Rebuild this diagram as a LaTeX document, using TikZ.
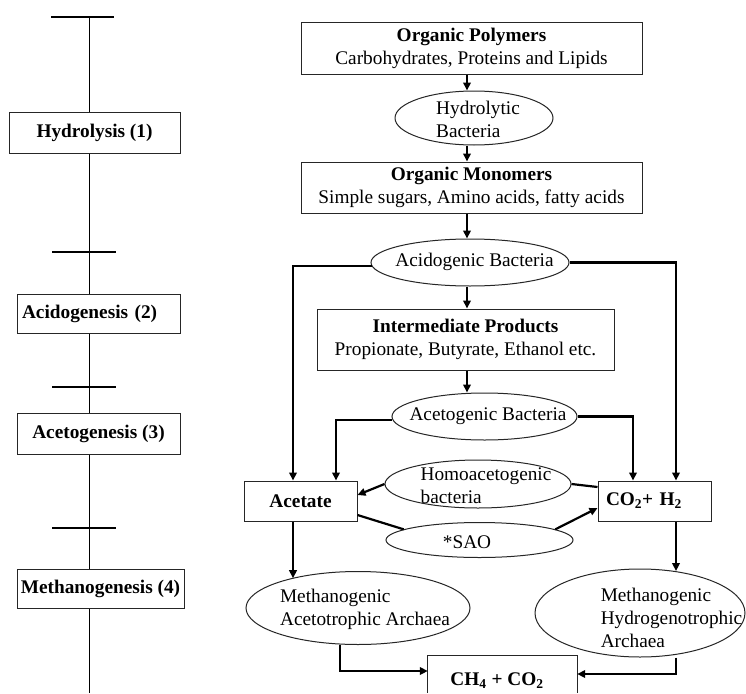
\documentclass[tikz,border=0pt]{standalone}
\usepackage{fontspec}
\setmainfont{Liberation Serif}
\usetikzlibrary{arrows.meta,shapes.geometric,calc}
\newcommand\figfont{\fontsize{19.3}{23}\selectfont}
\begin{document}
\begin{tikzpicture}[x=1pt,y=-1pt,
  box/.style={draw=black!85, line width=1pt, rectangle, fill=white, inner sep=0pt, align=center, font=\figfont},
  ell/.style={draw=black!85, line width=1pt, ellipse, inner sep=0pt},
  lbl/.style={font=\figfont, align=left, inner sep=0pt},
  arr/.style={line width=2.2pt, -{Triangle[length=8pt,width=7.5pt]}},
  ln/.style={line width=2.2pt},
  tickmark/.style={line width=2.8pt},
  axisline/.style={line width=0.9pt}]
\useasboundingbox[fill=white] (0,0) rectangle (746,693);
% ---------- left column ----------
\coordinate (axtop) at (89,17);
\coordinate (axbot) at (89,693);
\coordinate (t2) at (89,252);
\coordinate (t3) at (89,387);
\coordinate (t4) at (89,528);
\draw[axisline] (axtop) -- (axbot);
\draw[tickmark] ($(axtop)+(-38,0)$) -- ($(axtop)+(25,0)$);
\draw[tickmark] ($(t2)+(-37,0)$) -- ($(t2)+(27,0)$);
\draw[tickmark] ($(t3)+(-37,0)$) -- ($(t3)+(27,0)$);
\draw[tickmark] ($(t4)+(-37,0)$) -- ($(t4)+(27,0)$);
\node[box, minimum width=171pt, minimum height=41pt] (hyd) at (94.5,132.5) {\textbf{Hydrolysis (1)}};
\node[box, minimum width=163pt, minimum height=39pt, text width=153pt, align=left] (acid) at (98.5,313.5) {\textbf{Acidogenesis (2)}};
\node[box, minimum width=163pt, minimum height=41pt] (aceto) at (98.5,433.5) {\textbf{Acetogenesis (3)}};
\node[box, minimum width=167pt, minimum height=39pt] (meth) at (100.5,588.5) {\textbf{Methanogenesis (4)}};
% ---------- right diagram ----------
\coordinate (mx) at (467,0);
\coordinate (lx1) at (293,0);
\coordinate (lx2) at (336,0);
\coordinate (lx3) at (340,0);
\coordinate (rx1) at (676,0);
\coordinate (rx2) at (633,0);
\coordinate (yl) at (0,671);
\coordinate (yr) at (0,674);

\node[box, minimum width=341pt, minimum height=51pt] (poly) at (471.5,48.5) {\textbf{Organic Polymers}\\Carbohydrates, Proteins and Lipids};
\node[ell, minimum width=158pt, minimum height=54pt] (hydb) at (474,118) {};
\node[lbl] (hydbt) at (478,119.5) {Hydrolytic\\Bacteria};
\node[box, minimum width=341pt, minimum height=51pt] (mono) at (471.5,187.5) {\textbf{Organic Monomers}\\Simple sugars, Amino acids, fatty acids};
\node[ell, minimum width=198pt, minimum height=47pt] (acidb) at (470,262.5) {};
\node[lbl] (acidbt) at (474.5,262) {Acidogenic Bacteria};
\node[box, minimum width=297pt, minimum height=61pt] (inter) at (465.5,339.5) {\textbf{Intermediate Products}\\Propionate, Butyrate, Ethanol etc.};
\node[ell, minimum width=185pt, minimum height=47pt] (acetob) at (484.5,416.5) {};
\node[lbl] (acetobt) at (488,416) {Acetogenic Bacteria};
\node[box, minimum width=113pt, minimum height=40pt] (acet) at (300.5,501) {\textbf{Acetate}};
\node[box, minimum width=113pt, minimum height=40pt, text width=97pt, align=left] (co2) at (654.5,501) {\textbf{CO\textsubscript{2}+ H\textsubscript{2}}};
\node[ell, minimum width=186pt, minimum height=48pt] (homo) at (478,484) {};
\node[lbl] (homot) at (486,486) {Homoacetogenic\\bacteria};
\node[ell, minimum width=187pt, minimum height=35pt] (sao) at (479.5,540) {};
\node[lbl] (saot) at (467,542) {*SAO};
\node[ell, minimum width=224pt, minimum height=73pt] (maa) at (358,608) {};
\node[lbl] (maat) at (365,609) {Methanogenic\\Acetotrophic Archaea};
\node[ell, minimum width=210pt, minimum height=88pt] (mha) at (640,613) {};
\node[lbl] (mhat) at (671.5,618) {Methanogenic\\Hydrogenotrophic\\Archaea};
\node[minimum width=149pt, minimum height=37pt, inner sep=0pt] (ch4) at (502.5,674) {};
\draw[draw=black!85, line width=1pt] (ch4.south west) -- (ch4.north west) -- (ch4.north east) -- (ch4.south east);
\node[lbl] (ch4t) at (497,681) {\textbf{CH\textsubscript{4} + CO\textsubscript{2}}};

% connectors
\draw[arr] (poly.south -| mx) -- (hydb.north -| mx);
\draw[arr] (hydb.south -| mx) -- (mono.north -| mx);
\draw[arr] (mono.south -| mx) -- (acidb.north -| mx);
\draw[arr] (acidb.south -| mx) -- (inter.north -| mx);
\draw[arr] (inter.south -| mx) -- (acetob.north -| mx);
\draw[arr] (acidb.182) -- (acidb.182 -| lx1) -- (acet.north -| lx1);
\draw[arr] (acidb.east) -- (acidb.east -| rx1) -- (co2.north -| rx1);
\draw[arr] (acetob.182) -- (acetob.182 -| lx2) -- (acet.north -| lx2);
\draw[arr] (acetob.east) -- (acetob.east -| rx2) -- (co2.north -| rx2);
\draw[ln] ($(co2.west)+(0,-14)$) -- (homo.east);
\draw[arr] (homo.west) -- ($(acet.east)+(0,-6)$);
\draw[ln] ($(acet.east)+(0,14)$) -- (sao.172);
\draw[arr] (sao.8) -- ($(co2.west)+(0,7)$);
\draw[arr] (acet.south -| lx1) -- (maa.156 -| lx1);
\draw[arr] (co2.south -| rx1) -- (mha.50 -| rx1);
\draw[arr] (maa.south -| lx3) -- (lx3 |- yl) -- (ch4.west |- yl);
\draw[arr] (mha.south -| rx1) -- (rx1 |- yr) -- (ch4.east |- yr);
\end{tikzpicture}
\end{document}
